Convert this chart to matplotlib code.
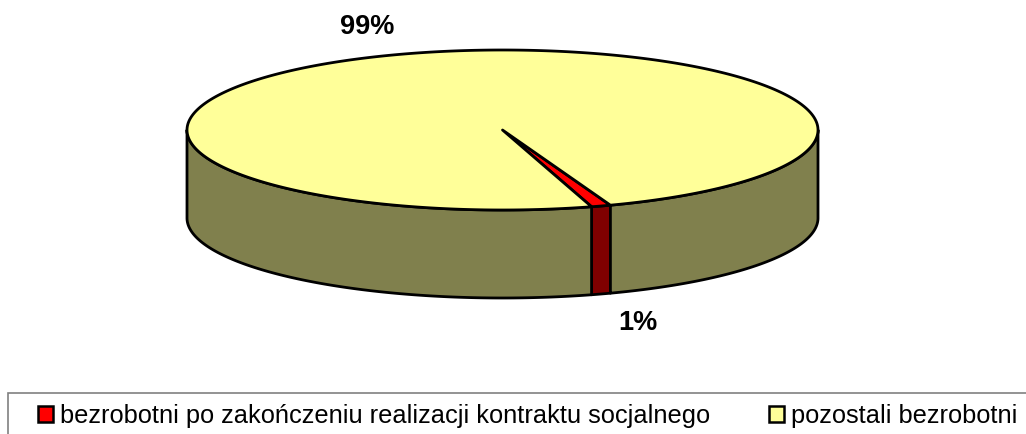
import numpy as np
import matplotlib
matplotlib.use("Agg")
import matplotlib.pyplot as plt
from matplotlib.patches import Polygon, Patch, Rectangle

labels = ["bezrobotni po zakończeniu realizacji kontraktu socjalnego", "pozostali bezrobotni"]
values = [1, 99]
top_colors = ["#FF0000", "#FFFF99"]
side_colors = ["#800000", "#80804D"]

plt.rcParams["font.family"] = ["Liberation Sans", "DejaVu Sans"]

fig = plt.figure(figsize=(10.26, 4.34), dpi=100)
ax = fig.add_axes([0, 0, 1, 1])
ax.set_xlim(0, 1026)
ax.set_ylim(434, 0)
ax.axis("off")

# pie geometry in pixel units
cx, cy, rx, ry, depth = 502.5, 130, 315.5, 80, 88
start = -70.0  # parametric angle where first slice begins, slices go clockwise


def ell(t):
    t = np.radians(t)
    return cx + rx * np.cos(t), cy - ry * np.sin(t)


fracs = np.array(values, dtype=float) / sum(values)
spans = fracs * 360
bounds = []
a = start
for s in spans:
    bounds.append((a - s, a))
    a -= s

# side walls (front half only)
for (lo, hi), col in zip(bounds, side_colors):
    for k in range(-2, 2):
        flo, fhi = -180 + 360 * k, 360 * k
        a0, a1 = max(lo, flo), min(hi, fhi)
        if a1 <= a0:
            continue
        t = np.linspace(a0, a1, 200)
        xs, ys = ell(t)
        pts = np.column_stack([np.r_[xs, xs[::-1]], np.r_[ys, ys[::-1] + depth]])
        ax.add_patch(Polygon(pts, closed=True, facecolor=col, edgecolor="black", lw=2.0, joinstyle="round"))

# top faces
for (lo, hi), col in zip(bounds, top_colors):
    t = np.linspace(lo, hi, 400)
    xs, ys = ell(t)
    pts = np.column_stack([np.r_[cx, xs], np.r_[cy, ys]])
    ax.add_patch(Polygon(pts, closed=True, facecolor=col, edgecolor="black", lw=2.0, joinstyle="round"))

# percent labels
for (lo, hi), f in zip(bounds, fracs):
    mid = (lo + hi) / 2
    tx = cx + 1.37 * rx * np.cos(np.radians(mid))
    ty = cy - 1.37 * ry * np.sin(np.radians(mid))
    if np.sin(np.radians(mid)) < 0:
        ty += depth
    ax.text(tx, ty + 1, f"{f * 100:.0f}%", ha="center", va="center",
            fontsize=19.5, fontweight="bold", color="black")

# legend frame (runs off the right and bottom edge)
ax.add_patch(Rectangle((8, 393), 1100, 100, facecolor="white", edgecolor="#808080", lw=1.2))
handles = [Patch(facecolor=c, edgecolor="black", lw=1.8) for c in top_colors]
ax.legend(handles, labels, loc="center left", bbox_to_anchor=(38, 416),
          bbox_transform=ax.transData, ncol=2, frameon=False, fontsize=18.3,
          handlelength=0.6, handleheight=0.6, handletextpad=0.28,
          columnspacing=2.3, borderpad=0, borderaxespad=0)

fig.savefig("out.png", dpi=100)
